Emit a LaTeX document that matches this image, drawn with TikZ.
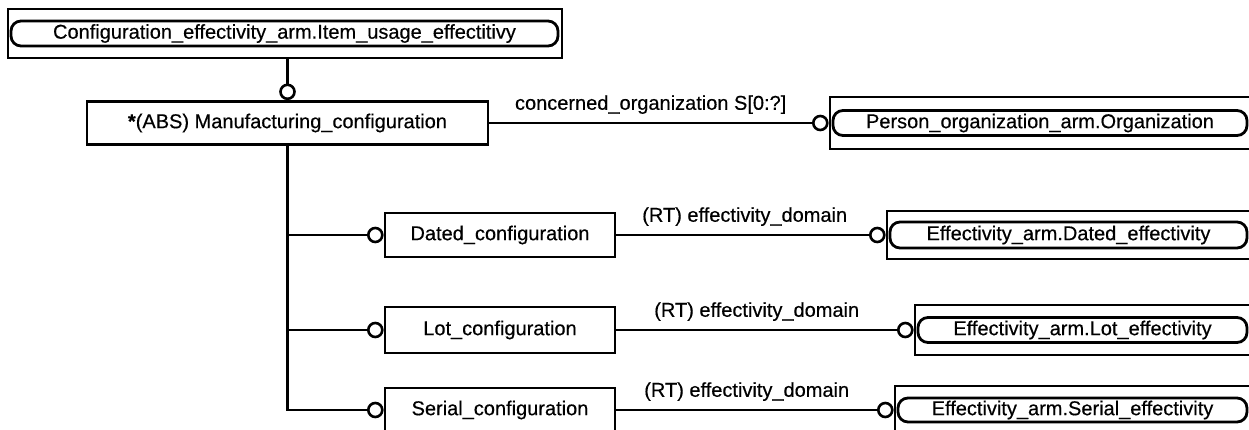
\documentclass[tikz,border=0pt]{standalone}
\usepackage{fontspec}
\setmainfont{Liberation Sans}[FakeBold=0.4]
\begin{document}
\begin{tikzpicture}[x=1pt,y=-1pt,
  lbl/.style={font=\fontsize{20}{24}\selectfont, inner sep=0pt},
  ent/.style={draw, line width=2.8pt, rectangle, inner sep=0pt, font=\fontsize{20}{24}\selectfont},
  outerbox/.style={draw, line width=2.8pt, rectangle, inner sep=0pt},
  innerbox/.style={draw, line width=2.8pt, rectangle, rounded corners=10pt, inner sep=0pt, font=\fontsize{20}{24}\selectfont},
  ring/.style={draw, line width=2.6pt, circle, minimum size=14pt, inner sep=0pt, fill=white},
  conn/.style={line width=2.2pt}]
\useasboundingbox (0,0) rectangle (1249,429);
\clip (0,0) rectangle (1249,429);

% top reference box
\node[outerbox, minimum width=554pt, minimum height=49pt] (ref) at (285,33.5) {};
\node[innerbox, minimum width=547pt, minimum height=25pt] (top) at (284.5,33.5) {Configuration\_effectivity\_arm.Item\_usage\_effectitivy};

% manufacturing configuration
\node[ent, minimum width=401pt, minimum height=43pt] (mfg) at (287.5,123) {\textbf{*}(ABS) Manufacturing\_configuration};
\node[ring, anchor=south] (c0) at (mfg.north) {};
\draw[conn] (c0.north) -- (c0.north |- ref.south);

% person organization
\node[outerbox, minimum width=440pt, minimum height=52pt] (pers) at (1050,123) {};
\node[innerbox, minimum width=414pt, minimum height=25pt] (persi) at (1040,123) {Person\_organization\_arm.Organization};
\node[ring, anchor=east] (c1) at (pers.west) {};
\draw[conn] (mfg.east) -- node[lbl, above=8pt] {concerned\_organization S[0:?]} (c1.west);

% subtypes
\node[ent, minimum width=230pt, minimum height=44pt] (dated) at (500,235) {Dated\_configuration};
\node[ent, minimum width=230pt, minimum height=46pt] (lot) at (500,330) {Lot\_configuration};
\node[ent, minimum width=230pt, minimum height=44pt] (serial) at (500,410) {Serial\_configuration};
\node[ring, anchor=east] (cd) at (dated.west) {};
\node[ring, anchor=east] (cl) at (lot.west) {};
\node[ring, anchor=east] (cs) at (serial.west) {};
\draw[conn] (mfg.south) -- (mfg.south |- cs.west) -- (cs.west);
\draw[conn] (mfg.south |- cd.west) -- (cd.west);
\draw[conn] (mfg.south |- cl.west) -- (cl.west);

% effectivity boxes
\node[outerbox, minimum width=383pt, minimum height=48pt] (de) at (1078.5,235) {};
\node[innerbox, minimum width=357pt, minimum height=26pt] (dei) at (1068.5,235) {Effectivity\_arm.Dated\_effectivity};
\node[ring, anchor=east] (cde) at (de.west) {};
\draw[conn] (dated.east) -- node[lbl, above=8pt, xshift=2pt] {(RT) effectivity\_domain} (cde.west);

\node[outerbox, minimum width=355pt, minimum height=50pt] (le) at (1092.5,330) {};
\node[innerbox, minimum width=329pt, minimum height=25pt] (lei) at (1082.5,330) {Effectivity\_arm.Lot\_effectivity};
\node[ring, anchor=east] (cle) at (le.west) {};
\draw[conn] (lot.east) -- node[lbl, above=8pt] {(RT) effectivity\_domain} (cle.west);

\node[outerbox, minimum width=375pt, minimum height=48pt] (se) at (1082.5,410) {};
\node[innerbox, minimum width=349pt, minimum height=24pt] (sei) at (1072.5,410) {Effectivity\_arm.Serial\_effectivity};
\node[ring, anchor=east] (cse) at (se.west) {};
\draw[conn] (serial.east) -- node[lbl, above=8pt] {(RT) effectivity\_domain} (cse.west);
\end{tikzpicture}
\end{document}
